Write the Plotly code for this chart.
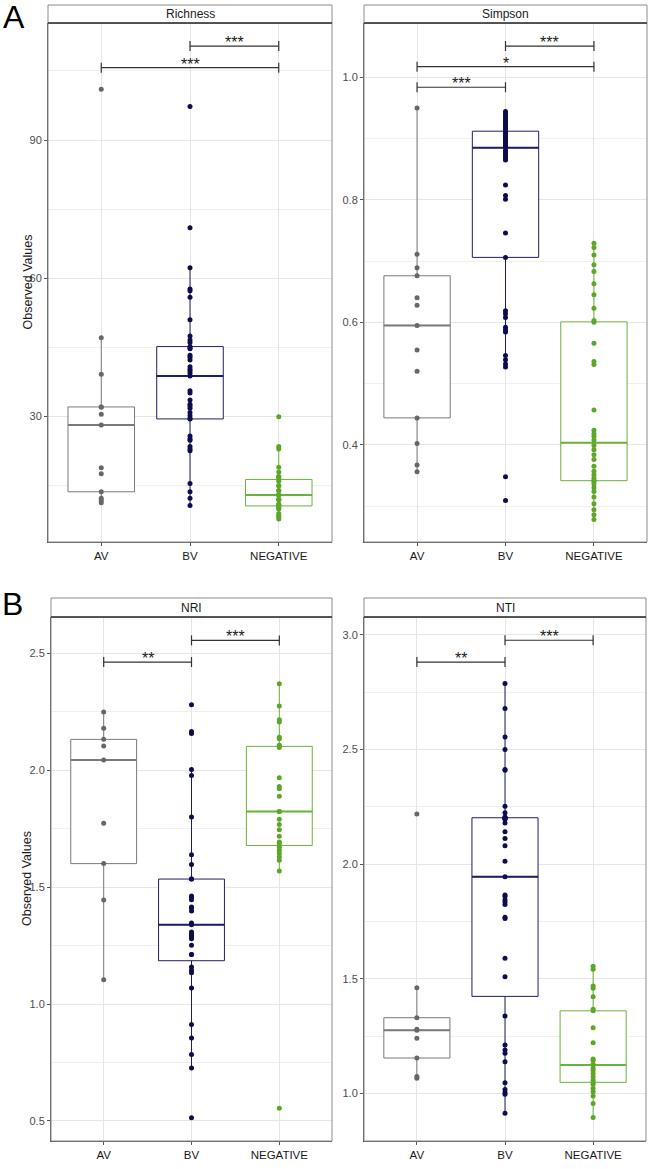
import numpy as np
import plotly.graph_objects as go

W, H = 650, 1169

groups = ["AV", "BV", "NEGATIVE"]

# ---- data ----
richness_av = [101.0, 47.1, 39.2, 32.1, 32.1, 30.5, 28.2, 18.9, 17.6, 13.7, 12.3, 11.8, 11.3]
richness_bv = [97.3, 71.0, 62.3, 57.7, 57.3, 55.9, 51.0, 47.5, 46.6, 46.1, 45.2, 44.9, 44.7, 43.3,
               42.9, 42.3, 40.8, 40.3, 39.9, 39.4, 38.8, 35.6, 35.1, 33.6, 32.7, 32.3, 31.8, 30.9,
               30.2, 29.6, 29.5, 25.8, 25.2, 24.9, 23.5, 23.0, 22.6, 15.5, 13.7, 12.3, 10.7]
richness_neg = [30.0, 23.5, 23.0, 19.0, 18.0, 17.0, 17.0, 16.5, 16.0, 15.0, 15.0, 14.0, 14.0, 13.0,
                13.0, 13.0, 13.0, 12.0, 12.0, 12.0, 11.0, 11.0, 10.5, 10.5, 10.0, 10.0, 9.0, 8.5,
                8.2, 7.8]

simpson_av = [0.950, 0.711, 0.689, 0.676, 0.640, 0.628, 0.595, 0.555, 0.520, 0.444, 0.402, 0.367, 0.356]
simpson_bv = [0.944, 0.941, 0.938, 0.935, 0.933, 0.930, 0.927, 0.925, 0.922, 0.920, 0.918, 0.915,
              0.912, 0.909, 0.907, 0.904, 0.902, 0.899, 0.897, 0.895, 0.893, 0.891, 0.888, 0.886,
              0.885, 0.880, 0.878, 0.875, 0.873, 0.870, 0.868, 0.865, 0.824, 0.807, 0.801, 0.746,
              0.706, 0.619, 0.614, 0.608, 0.592, 0.588, 0.584, 0.546, 0.539, 0.532, 0.527, 0.348, 0.309]
simpson_neg = [0.729, 0.722, 0.710, 0.694, 0.683, 0.663, 0.645, 0.623, 0.603, 0.600, 0.566, 0.536,
               0.531, 0.457, 0.424, 0.418, 0.414, 0.408, 0.399, 0.392, 0.384, 0.376, 0.365, 0.357,
               0.351, 0.346, 0.342, 0.340, 0.336, 0.330, 0.324, 0.315, 0.304, 0.294, 0.286, 0.278]

nri_av = [2.248, 2.179, 2.131, 2.103, 2.043, 1.772, 1.600, 1.444, 1.104]
nri_bv = [2.279, 2.165, 2.156, 2.002, 1.977, 1.799, 1.638, 1.596, 1.534, 1.534, 1.462, 1.455,
          1.446, 1.415, 1.410, 1.397, 1.346, 1.339, 1.308, 1.300, 1.294, 1.286, 1.279, 1.251,
          1.212, 1.212, 1.158, 1.144, 1.134, 1.068, 0.912, 0.855, 0.784, 0.726, 0.514]
nri_neg = [2.369, 2.274, 2.215, 2.205, 2.140, 2.134, 2.106, 2.096, 1.967, 1.930, 1.920, 1.888,
           1.823, 1.823, 1.790, 1.767, 1.745, 1.717, 1.692, 1.685, 1.670, 1.657, 1.643, 1.628,
           1.614, 1.568, 0.554]

nti_av = [2.219, 1.461, 1.330, 1.280, 1.275, 1.240, 1.154, 1.073, 1.066]
nti_bv = [2.788, 2.679, 2.555, 2.500, 2.413, 2.410, 2.253, 2.224, 2.206, 2.203, 2.202, 2.200,
          2.198, 2.196, 2.180, 2.141, 2.112, 2.080, 2.013, 1.945, 1.865, 1.860, 1.845, 1.835,
          1.824, 1.768, 1.763, 1.589, 1.509, 1.337, 1.211, 1.189, 1.175, 1.138, 1.046, 1.017,
          1.004, 0.996, 0.913]
nti_neg = [1.555, 1.541, 1.468, 1.458, 1.421, 1.367, 1.360, 1.286, 1.221, 1.150, 1.143, 1.127,
           1.124, 1.109, 1.101, 1.087, 1.072, 1.058, 1.048, 1.040, 1.022, 1.007, 0.988, 0.956, 0.895]

sig_richness = [("AV", "NEGATIVE", 105.7, "***"), ("BV", "NEGATIVE", 110.4, "***")]
sig_simpson = [("AV", "BV", 0.9837, "***"), ("AV", "NEGATIVE", 1.0173, "*"), ("BV", "NEGATIVE", 1.051, "***")]
sig_nri = [("AV", "BV", 2.4615, "**"), ("BV", "NEGATIVE", 2.554, "***")]
sig_nti = [("AV", "BV", 2.882, "**"), ("BV", "NEGATIVE", 2.977, "***")]

# ---- styles ----
point_colors = {"AV": "#676767", "BV": "#0c0c4e", "NEGATIVE": "#5ea628"}
box_colors = {"AV": "#7a7a7a", "BV": "#1e1e66", "NEGATIVE": "#6ab23a"}
SANS = "Liberation Sans, Arial, sans-serif"

panels = [
    dict(name="Richness", data=[richness_av, richness_bv, richness_neg], sig=sig_richness,
         yrange=[2.8, 115.4], dtick=30, minor=15, fmt="", px_x=(48, 332), px_y=(23, 542), strip=(5, 23), title=True),
    dict(name="Simpson", data=[simpson_av, simpson_bv, simpson_neg], sig=sig_simpson,
         yrange=[0.2414, 1.0886], dtick=0.2, minor=0.1, fmt=".1f", px_x=(364, 647), px_y=(23, 542), strip=(5, 23), title=False),
    dict(name="NRI", data=[nri_av, nri_bv, nri_neg], sig=sig_nri,
         yrange=[0.4145, 2.654], dtick=0.5, minor=0.25, fmt=".1f", px_x=(51, 332), px_y=(617, 1141), strip=(598, 617), title=True),
    dict(name="NTI", data=[nti_av, nti_bv, nti_neg], sig=sig_nti,
         yrange=[0.792, 3.0785], dtick=0.5, minor=0.25, fmt=".1f", px_x=(364, 646), px_y=(617, 1141), strip=(598, 617), title=False),
]


def box_stats(vals):
    v = np.sort(np.asarray(vals, dtype=float))
    q1, med, q3 = np.percentile(v, [25, 50, 75])
    iqr = q3 - q1
    lo = v[v >= q1 - 1.5 * iqr].min()
    hi = v[v <= q3 + 1.5 * iqr].max()
    return q1, med, q3, lo, hi


fig = go.Figure()
shapes = []
annotations = []
layout = {}

for k, p in enumerate(panels, start=1):
    xa, ya = f"x{k}", f"y{k}"
    x0p, x1p = p["px_x"]
    y0p, y1p = p["px_y"]
    layout[f"xaxis{k}"] = dict(
        domain=[x0p / W, x1p / W], range=[-0.6, 2.6], anchor=ya,
        tickvals=[0, 1, 2], ticktext=groups,
        showgrid=True, gridcolor="#e6e6e6", gridwidth=1, zeroline=False,
        showline=True, linecolor="#555555", linewidth=1,
        ticks="outside", ticklen=3, tickcolor="#555555",
        tickfont=dict(family=SANS, size=11.5, color="#1a1a1a"),
    )
    layout[f"yaxis{k}"] = dict(
        domain=[1 - y1p / H, 1 - y0p / H], range=p["yrange"], anchor=xa,
        tick0=0, dtick=p["dtick"], tickformat=p["fmt"],
        showgrid=True, gridcolor="#e6e6e6", gridwidth=1, zeroline=False,
        minor=dict(tick0=0, dtick=p["minor"], showgrid=True, gridcolor="#f0f0f0", gridwidth=1),
        showline=True, linecolor="#555555", linewidth=1,
        ticks="outside", ticklen=3, tickcolor="#555555",
        tickfont=dict(family=SANS, size=11, color="#4d4d4d"),
    )
    # panel border
    shapes.append(dict(type="rect", xref="paper", yref="paper",
                       x0=x0p / W, x1=x1p / W, y0=1 - y1p / H, y1=1 - y0p / H,
                       line=dict(color="#8c8c8c", width=1), fillcolor="rgba(0,0,0,0)", layer="above"))
    # strip
    s0, s1 = p["strip"]
    shapes.append(dict(type="rect", xref="paper", yref="paper",
                       x0=x0p / W, x1=x1p / W, y0=1 - s1 / H, y1=1 - s0 / H,
                       line=dict(color="#8c8c8c", width=1), fillcolor="white", layer="above"))
    shapes.append(dict(type="line", xref="paper", yref="paper",
                       x0=x0p / W, x1=x1p / W, y0=1 - s1 / H, y1=1 - s1 / H,
                       line=dict(color="#333333", width=1.5), layer="above"))
    annotations.append(dict(text=p["name"], xref="paper", yref="paper",
                            x=(x0p + x1p) / 2 / W, y=1 - (s0 + s1) / 2 / H,
                            xanchor="center", yanchor="middle", showarrow=False,
                            font=dict(family=SANS, size=12, color="#1a1a1a")))
    if p["title"]:
        annotations.append(dict(text="Observed Values", xref="paper", yref="paper",
                                x=27 / W, y=1 - (y0p + y1p) / 2 / H, textangle=-90,
                                xanchor="center", yanchor="middle", showarrow=False,
                                font=dict(family=SANS, size=12.5, color="#1a1a1a")))

    for gi, (g, vals) in enumerate(zip(groups, p["data"])):
        vals = np.asarray(vals, dtype=float)
        q1, med, q3, lo, hi = box_stats(vals)
        fig.add_trace(go.Box(
            x=[gi], q1=[q1], median=[med], q3=[q3], lowerfence=[lo], upperfence=[hi],
            width=0.75, xaxis=xa, yaxis=ya, boxpoints=False, whiskerwidth=0,
            line=dict(color=box_colors[g], width=1),
            fillcolor="white", showlegend=False, hoverinfo="skip"))
        fig.add_trace(go.Scatter(
            x=[gi - 0.375, gi + 0.375], y=[med, med], mode="lines", xaxis=xa, yaxis=ya,
            line=dict(color=box_colors[g], width=2), showlegend=False, hoverinfo="skip"))
        fig.add_trace(go.Scatter(
            x=[gi] * len(vals), y=vals, mode="markers", xaxis=xa, yaxis=ya,
            marker=dict(size=5, color=point_colors[g]), showlegend=False, hoverinfo="skip"))

    # significance brackets
    span = p["yrange"][1] - p["yrange"][0]
    tip = 5 * span / (y1p - y0p)
    for g1, g2, yv, lab in p["sig"]:
        a, b = groups.index(g1), groups.index(g2)
        shapes.append(dict(type="line", xref=xa, yref=ya, x0=a, x1=b, y0=yv, y1=yv,
                           line=dict(color="#333333", width=1.2)))
        for xe in (a, b):
            shapes.append(dict(type="line", xref=xa, yref=ya, x0=xe, x1=xe, y0=yv - tip, y1=yv + tip,
                               line=dict(color="#333333", width=1.2)))
        annotations.append(dict(text=lab, xref=xa, yref=ya, x=(a + b) / 2, y=yv,
                                xanchor="center", yanchor="bottom", yshift=-7, showarrow=False,
                                font=dict(family=SANS, size=16, color="#1a1a1a")))

annotations.append(dict(text="A", xref="paper", yref="paper", x=14 / W, y=1 - 17 / H,
                        xanchor="center", yanchor="middle", showarrow=False,
                        font=dict(family=SANS, size=32, color="black")))
annotations.append(dict(text="B", xref="paper", yref="paper", x=12 / W, y=1 - 604 / H,
                        xanchor="center", yanchor="middle", showarrow=False,
                        font=dict(family=SANS, size=32, color="black")))

fig.update_layout(
    width=W, height=H, margin=dict(l=0, r=0, t=0, b=0),
    paper_bgcolor="white", plot_bgcolor="white",
    boxmode="overlay", shapes=shapes, annotations=annotations, **layout)

fig.write_html("out.html", config={"displayModeBar": False},
               post_script="document.body.style.margin='0';")
